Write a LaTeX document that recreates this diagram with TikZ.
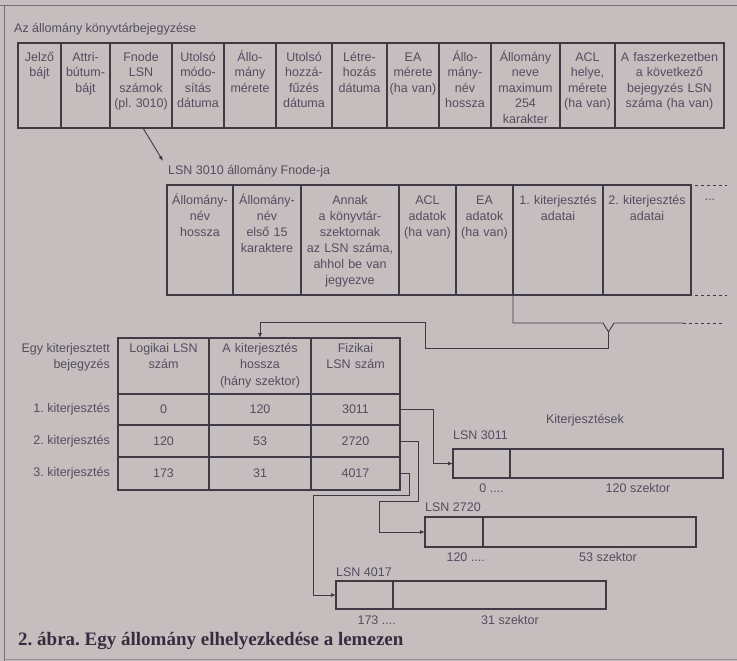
\documentclass[tikz,border=0pt]{standalone}
\usepackage{fontspec}
\setmainfont{Liberation Sans}
\newfontfamily\capfont{Liberation Serif}
\usetikzlibrary{arrows.meta,calc}
\definecolor{bgc}{RGB}{198,189,191}
\definecolor{linec}{RGB}{62,58,70}
\definecolor{txtc}{RGB}{82,78,94}
\definecolor{capc}{RGB}{55,45,62}
\begin{document}
\frenchspacing
\begin{tikzpicture}[x=1pt,y=-1pt,
  box/.style={draw=linec, line width=1.1pt, inner sep=0pt, outer sep=0pt, anchor=north west, text=txtc, font=\fontsize{12.5}{15}\selectfont},
  lbl/.style={text=txtc, inner sep=0pt, font=\fontsize{12.5}{15.5}\selectfont},
  lblb/.style={text=txtc, inner sep=0pt, font=\fontsize{12.5}{16}\selectfont},
  lblc/.style={text=txtc, inner sep=0pt, font=\fontsize{12.5}{16.5}\selectfont},
  arr/.style={draw=linec, line width=0.9pt, -{Latex[length=5pt,width=4pt]}},
  conn/.style={draw=linec, line width=0.9pt},
  dashc/.style={draw=linec, line width=0.9pt, dash pattern=on 3pt off 3pt},
]
\fill[bgc] (0,0) rectangle (737,661);
\useasboundingbox (0,0) rectangle (737,661);
% frame
\draw[linec!60!bgc, line width=1pt] (0,6) -- (737,6);
\draw[linec!60!bgc, line width=1pt] (4,6) -- (4,661);
\draw[linec!35!bgc, line width=0.8pt] (4,659) -- (737,659);

% ---- directory entry table
\node[lbl, anchor=west, font=\fontsize{12.5}{15}\selectfont] (title) at (14,29) {Az állomány könyvtárbejegyzése};
\foreach \n/\a/\b/\t in {1/18/61/{Jelző\\bájt},2/61/110/{Attri-\\bútum-\\bájt},3/110/172/{Fnode\\LSN\\számok\\(pl. 3010)},4/172/224/{Utolsó\\módo-\\sítás\\dátuma},5/224/276/{Állo-\\mány\\mérete},6/276/332/{Utolsó\\hozzá-\\fűzés\\dátuma},7/332/387/{Létre-\\hozás\\dátuma},8/387/439/{EA\\mérete\\(ha van)},9/439/491/{Állo-\\mány-\\név\\hossza},10/491/560/{Állomány\\neve\\maximum\\254\\karakter},11/560/615/{ACL\\helye,\\mérete\\(ha van)},12/615/724/{A faszerkezetben\\a következő\\bejegyzés LSN\\száma (ha van)}}{
  \pgfmathsetmacro\w{\b-\a}
  \pgfmathsetmacro\tw{\b-\a-4}
  \node[box, minimum width=\w pt, minimum height=85pt] (d\n) at (\a,43) {};
  \node[lbl, align=center, anchor=north, text width=\tw pt] (dt\n) at ([yshift=-7pt]d\n.north) {\strut\t};
}

% ---- Fnode table
\coordinate (fa) at (163,161);
\draw[arr] ([xshift=2pt]d3.south) -- (fa);
\node[lbl, anchor=west] (fl) at (168,171) {LSN 3010 állomány Fnode-ja};
\foreach \n/\a/\b/\t in {1/167/233/{Állomány-\\név\\hossza},2/233/301/{Állomány-\\név\\első 15\\karaktere},3/301/399/{Annak\\a könyvtár-\\szektornak\\az LSN száma,\\ahhol be van\\jegyezve},4/399/456/{ACL\\adatok\\(ha van)},5/456/513/{EA\\adatok\\(ha van)},6/513/603/{1. kiterjesztés\\adatai},7/603/691/{2. kiterjesztés\\adatai}}{
  \pgfmathsetmacro\w{\b-\a}
  \pgfmathsetmacro\tw{\b-\a-4}
  \node[box, minimum width=\w pt, minimum height=110pt] (f\n) at (\a,185) {};
  \node[lblb, align=center, anchor=north, text width=\tw pt] (ft\n) at ([yshift=-8pt]f\n.north) {\strut\t};
}
\draw[dashc] (f7.north east) ++(4,0) -- ++(32,0);
\draw[dashc] (f7.south east) ++(4,0) -- ++(32,0);
\node[lbl] (fdots) at (710,200) {...};

% brace under the extent data
\coordinate (bv) at (608.5,332);
\coordinate (k4) at (425,322);
\draw[conn] (f6.south west) -- ++(0,28) -- (603,323) -- (bv) -- (614,323) -- (683,323);
\draw[dashc] (683,323) -- (723,323);

% ---- extent table
\node[lblc, align=right, anchor=north east] (eb) at (110,340.5) {\strut Egy kiterjesztett\\bejegyzés};
\foreach \n/\a/\b/\t in {1/118/209/{Logikai LSN\\szám},2/209/311/{A kiterjesztés\\hossza\\(hány szektor)},3/311/400/{Fizikai\\LSN szám}}{
  \pgfmathsetmacro\w{\b-\a}
  \pgfmathsetmacro\tw{\b-\a-4}
  \node[box, minimum width=\w pt, minimum height=56pt] (h\n) at (\a,338) {};
  \node[lblc, align=center, anchor=north, text width=\tw pt] (ht\n) at ([yshift=-2.5pt]h\n.north) {\strut\t};
}
\foreach \r/\y/\h/\va/\vb/\vc in {1/394/31/0/120/3011,2/425/32/120/53/2720,3/457/33/173/31/4017}{
  \node[box, minimum width=91pt, minimum height=\h pt] (c\r1) at (118,\y) {\va};
  \node[box, minimum width=102pt, minimum height=\h pt] (c\r2) at (209,\y) {\vb};
  \node[box, minimum width=89pt, minimum height=\h pt] (c\r3) at (311,\y) {\vc};
  \node[lbl, anchor=east] (rl\r) at (110,{\y+\h/2}) {\r. kiterjesztés};
}
\draw[arr] (bv) -- ++(0,16) -| (k4) -| (h2.north);

% ---- extents on disk
\node[lbl] (kt) at (585,420) {Kiterjesztések};
\node[box, minimum width=57pt, minimum height=29pt] (x1a) at (453,449) {};
\node[box, minimum width=213pt, minimum height=29pt] (x1b) at (510,449) {};
\node[box, minimum width=58pt, minimum height=30pt] (x2a) at (425,517) {};
\node[box, minimum width=213pt, minimum height=30pt] (x2b) at (483,517) {};
\node[box, minimum width=57pt, minimum height=28pt] (x3a) at (336,581) {};
\node[box, minimum width=213pt, minimum height=28pt] (x3b) at (393,581) {};

\node[lbl, anchor=west] (ls1) at (453,435) {LSN 3011};
\node[lbl, anchor=west] (ls2) at (425,507) {LSN 2720};
\node[lbl, anchor=west] (ls3) at (336,572) {LSN 4017};

\node[lbl, anchor=base east] (s1) at (504,492) {0 ....};
\node[lbl, anchor=base east] (s2) at (485,561) {120 ....};
\node[lbl, anchor=base east] (s3) at (396,624) {173 ....};
\node[lbl, anchor=base] (z1) at (638,492) {120 szektor};
\node[lbl, anchor=base] (z2) at (608,561) {53 szektor};
\node[lbl, anchor=base] (z3) at (510,624) {31 szektor};

\coordinate (k2) at (379,501);
\coordinate (k3) at (313,495);
\draw[arr] (c13.east) -- ++(33,0) |- (x1a.west);
\draw[arr] (c23.east) -- ++(18,0) |- (k2) |- (x2a.west);
\draw[arr] (c33.east) -- ++(9,0) |- (k3) |- (x3a.west);

% ---- caption
\node[anchor=base west, inner sep=0pt, text=capc, font=\capfont\bfseries\fontsize{19}{21}\selectfont] (cap) at (18,645) {2. ábra. Egy állomány elhelyezkedése a lemezen};
\end{tikzpicture}
\end{document}
